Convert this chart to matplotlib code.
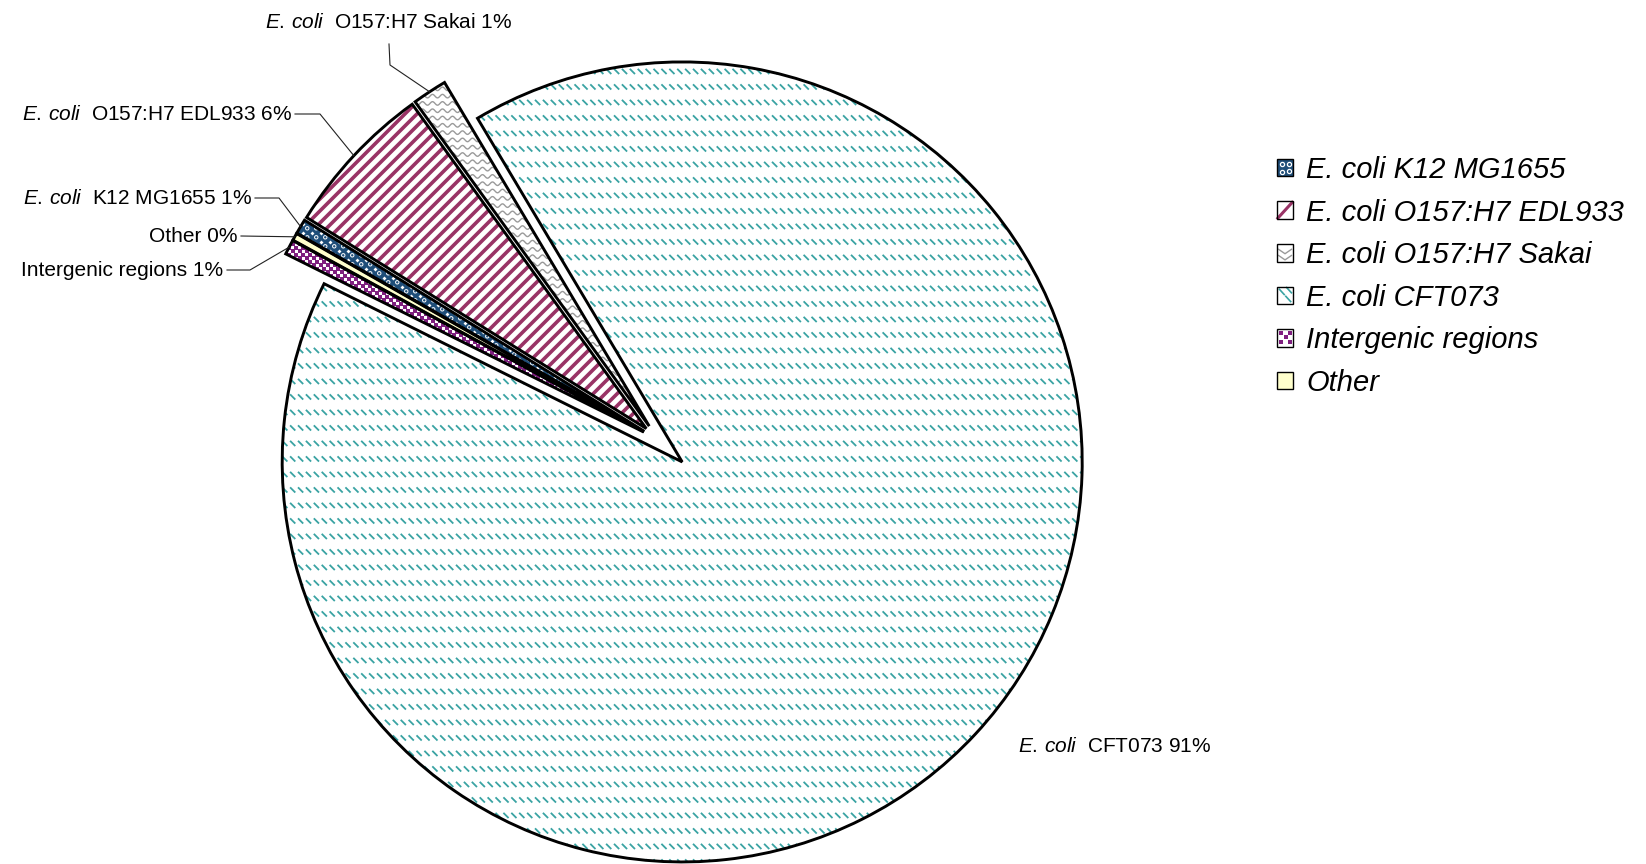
import numpy as np
import matplotlib
matplotlib.use("Agg")
import matplotlib.pyplot as plt
from matplotlib.collections import LineCollection
from matplotlib.patches import Rectangle, Wedge
from matplotlib.lines import Line2D
from matplotlib.legend_handler import HandlerBase

plt.rcParams["font.family"] = ["Liberation Sans", "DejaVu Sans"]
plt.rcParams["mathtext.fontset"] = "custom"
plt.rcParams["mathtext.it"] = "Liberation Sans:italic"
plt.rcParams["mathtext.rm"] = "Liberation Sans"

# ---- data -------------------------------------------------------------
legend_names = ["E. coli K12 MG1655", "E. coli O157:H7 EDL933",
                "E. coli O157:H7 Sakai", "E. coli CFT073",
                "Intergenic regions", "Other"]
strain_names = ["K12 MG1655", "O157:H7 EDL933", "O157:H7 Sakai", "CFT073",
                "Intergenic regions", "Other"]
is_ecoli = [True, True, True, True, False, False]
shares = [0.6, 6.2, 1.4, 90.9, 0.6, 0.3]          # percent of matches

# ---- styling ----------------------------------------------------------
W, H = 1646, 864
base_colors = ["#1f4e79", "#ffffff", "#ffffff", "#ffffff", "#ffffff", "#ffffcc"]
pattern_kind = ["dots", "stripes", "waves", "dashes", "squares", "plain"]
explode = [16, 16, 16, 33, 16, 16]


def sy(y):
    """screen row -> data y (axes use pixel units, y up)"""
    return H - y


fig = plt.figure(figsize=(W / 100, H / 100), dpi=100)
ax = fig.add_axes([0, 0, 1, 1])

wedges, _ = ax.pie(shares, startangle=150.3, counterclock=False, radius=400,
                   center=(658, sy(439.5)), explode=explode,
                   colors=base_colors,
                   wedgeprops=dict(edgecolor="none", linewidth=0))
ax.set_xlim(0, W)
ax.set_ylim(0, H)
ax.set_aspect("auto")
ax.axis("off")


def add_pattern(w, kind):
    cx, cy = w.center
    r = w.r
    arts = []
    if kind == "dashes":
        segs = []
        for y in np.arange(cy - r, cy + r + 16, 15.5):
            for x in np.arange(cx - r, cx + r + 8, 7.9):
                segs.append([(x, y + 2.6), (x + 5.2, y - 2.6)])
        arts.append(LineCollection(segs, colors="#3aa3a3", linewidths=1.3,
                                   capstyle="butt"))
    elif kind == "stripes":
        segs = []
        for c in np.arange(-2 * r - 20, 2 * r + 20, 12.0):
            x0, x1 = cx - r - 5, cx + r + 5
            segs.append([(x0, x0 - (cx - cy) - c), (x1, x1 - (cx - cy) - c)])
        arts.append(LineCollection(segs, colors="#993366", linewidths=2.6))
    elif kind == "waves":
        segs = []
        xs = np.arange(cx - r, cx + r, 1.0)
        for y in np.arange(cy - r, cy + r, 7.3):
            ys = y + 1.8 * np.sin(2 * np.pi * xs / 10.0)
            segs.append(np.column_stack([xs, ys]))
        arts.append(LineCollection(segs, colors="#9a9a9a", linewidths=1.0))
    elif kind == "dots":
        gx, gy = np.meshgrid(np.arange(cx - r, cx + r, 9.0),
                             np.arange(cy - r, cy + r, 9.0))
        arts.append(ax.scatter(gx.ravel(), gy.ravel(), s=6, marker="o",
                               facecolors="none", edgecolors="white",
                               linewidths=0.7))
        arts.append(ax.scatter(gx.ravel() + 4.5, gy.ravel() + 4.5, s=4,
                               marker="D", color="white", linewidths=0))
    elif kind == "squares":
        gx, gy = np.meshgrid(np.arange(cx - r, cx + r, 7.0),
                             np.arange(cy - r, cy + r, 7.0))
        px = np.concatenate([gx.ravel(), gx.ravel() + 3.5])
        py = np.concatenate([gy.ravel(), gy.ravel() + 3.5])
        arts.append(ax.scatter(px, py, s=5, marker="s", color="#7f1f7f",
                               linewidths=0))
    for a in arts:
        if isinstance(a, LineCollection):
            ax.add_collection(a)
        a.set_zorder(1.5)
        a.set_clip_path(w)
    outline = Wedge(w.center, w.r, w.theta1, w.theta2, fill=False,
                    edgecolor="black", linewidth=2.1, joinstyle="miter",
                    zorder=2)
    ax.add_patch(outline)


for w, k in zip(wedges, pattern_kind):
    add_pattern(w, k)


# ---- slice labels ------------------------------------------------------
def slice_text(i):
    pct = f"{round(shares[i])}%"
    if is_ecoli[i]:
        return r"$\mathit{E.\,coli}$  " + f"{strain_names[i]} {pct}"
    return f"{strain_names[i]} {pct}"


def arc_mid(w):
    a = np.deg2rad(0.5 * (w.theta1 + w.theta2))
    return (w.center[0] + w.r * np.cos(a), w.center[1] + w.r * np.sin(a))


# (text anchor, alignment, leader bend points) in screen pixels
label_layout = {
    0: ((252, 199), "right", [(255, 198), (279, 198)]),
    1: ((292, 115), "right", [(295, 114), (320, 114)]),
    2: ((389, 23), "center", [(389, 44), (390, 65)]),
    3: ((1018, 746), "left", []),
    4: ((223, 271), "right", [(227, 270), (250, 270)]),
    5: ((238, 236), "right", [(241, 236)]),
}
for i, ((tx, ty), ha, bends) in label_layout.items():
    ax.text(tx, sy(ty), slice_text(i), ha=ha, va="center", fontsize=15,
            color="black", zorder=4)
    if bends:
        pts = [(x, sy(y)) for x, y in bends] + [arc_mid(wedges[i])]
        xs, ys = zip(*pts)
        ax.plot(xs, ys, color="#222222", lw=0.8, zorder=3)


# ---- legend ------------------------------------------------------------
class SwatchHandler(HandlerBase):
    def create_artists(self, legend, orig_handle, xdescent, ydescent,
                       width, height, fontsize, trans):
        x0, y0 = -xdescent, -ydescent
        kind = orig_handle.get_gid()

        def P(u, v):
            return (x0 + u * width, y0 + v * height)

        arts = [Rectangle((x0, y0), width, height,
                          facecolor=orig_handle.get_facecolor(),
                          edgecolor="none", transform=trans)]
        if kind == "dots":
            for u, v in [(0.3, 0.7), (0.72, 0.3), (0.3, 0.28), (0.72, 0.72)]:
                arts.append(Line2D([P(u, v)[0]], [P(u, v)[1]], marker="o",
                                   ms=3, mfc="none", mec="white", mew=0.9,
                                   transform=trans))
        elif kind == "stripes":
            (a, b), (c, d) = P(0.05, 0.05), P(0.95, 0.95)
            arts.append(Line2D([a, c], [b, d], color="#993366", lw=2.2,
                               transform=trans))
        elif kind == "waves":
            for v in (0.35, 0.7):
                pts = [P(0.1, v), P(0.5, v - 0.25), P(0.9, v)]
                xs, ys = zip(*pts)
                arts.append(Line2D(xs, ys, color="#9a9a9a", lw=1.0,
                                   transform=trans))
        elif kind == "dashes":
            for u0, v0 in [(0.15, 0.85), (0.55, 0.45), (0.6, 0.95)]:
                (a, b), (c, d) = P(u0, v0), P(u0 + 0.3, v0 - 0.3)
                arts.append(Line2D([a, c], [b, d], color="#3aa3a3", lw=1.2,
                                   transform=trans))
        elif kind == "squares":
            for u in (0.25, 0.55, 0.8):
                for v in (0.25, 0.55, 0.8):
                    if (u + v) % 0.6 < 0.35:
                        continue
                    arts.append(Line2D([P(u, v)[0]], [P(u, v)[1]], marker="s",
                                       ms=2.2, color="#7f1f7f", mew=0,
                                       transform=trans))
        arts.append(Rectangle((x0, y0), width, height, fill=False,
                              edgecolor="black", linewidth=1.0,
                              transform=trans))
        return arts


handles = []
for name, col, kind in zip(legend_names, base_colors, pattern_kind):
    h = Rectangle((0, 0), 1, 1, facecolor=col, label=name)
    h.set_gid(kind)
    handles.append(h)

fig.legend(handles=handles, loc="upper left",
           bbox_to_anchor=(1277 / W, 1 - 156 / H),
           bbox_transform=fig.transFigure, frameon=False,
           prop=dict(family="Liberation Sans", style="italic", size=21),
           handlelength=0.55, handleheight=0.55, handletextpad=0.45,
           labelspacing=0.5, borderpad=0, borderaxespad=0,
           handler_map={Rectangle: SwatchHandler()})

fig.savefig("out.png", dpi=100, facecolor="white")
